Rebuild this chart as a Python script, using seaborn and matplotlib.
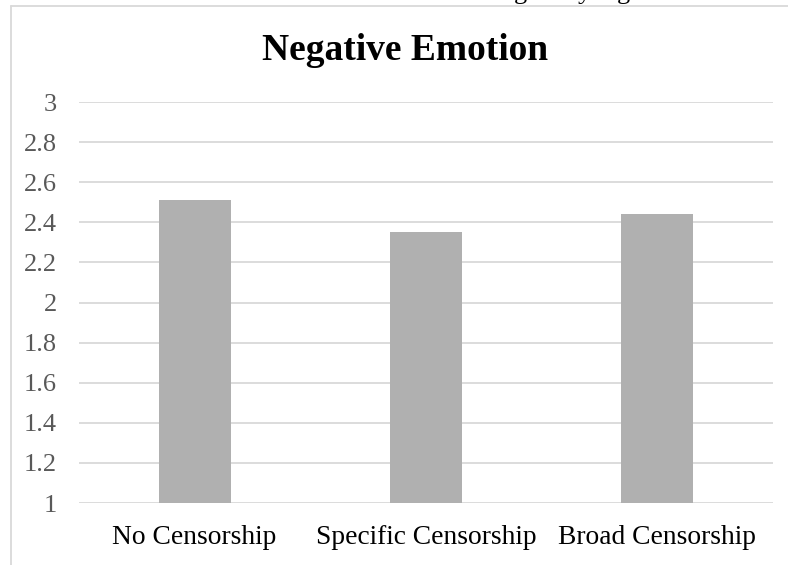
import matplotlib
matplotlib.use("Agg")
import matplotlib.pyplot as plt
from matplotlib.lines import Line2D
import seaborn as sns
import pandas as pd

# Mean negative emotion rating per condition
conditions = ["No Censorship", "Specific Censorship", "Broad Censorship"]
negative_emotion = [2.51, 2.35, 2.44]
y_ticks = [1, 1.2, 1.4, 1.6, 1.8, 2, 2.2, 2.4, 2.6, 2.8, 3]
y_tick_labels = ["1", "1.2", "1.4", "1.6", "1.8", "2", "2.2", "2.4", "2.6", "2.8", "3"]
title = "Negative Emotion"

sns.set_theme(style="white")
plt.rcParams["font.family"] = ["Liberation Serif", "DejaVu Serif"]

W, H, DPI = 788, 565, 100
fig = plt.figure(figsize=(W / DPI, H / DPI), dpi=DPI)
fig.patch.set_facecolor("white")

# plot area in pixel coordinates
left, right, top, bottom = 79, 773, 102, 503
ax = fig.add_axes([left / W, 1 - bottom / H, (right - left) / W, (bottom - top) / H])

df = pd.DataFrame({"condition": conditions, "score": negative_emotion})
sns.barplot(data=df, x="condition", y="score", color="#b0b0b0", saturation=1,
            width=0.31, ax=ax, zorder=3, edgecolor="none")

ax.set_ylim(1, 3)
ax.set_xlim(-0.5, len(conditions) - 0.5)
ax.set_yticks(y_ticks)
ax.set_yticklabels(y_tick_labels)
ax.set_xlabel("")
ax.set_ylabel("")
ax.yaxis.grid(True, color="#d9d9d9", linewidth=1.3, zorder=0)
ax.xaxis.grid(False)
ax.set_axisbelow(True)
for s in ax.spines.values():
    s.set_visible(False)

ax.tick_params(axis="y", length=0, pad=16, labelsize=19, labelcolor="#595959")
ax.tick_params(axis="x", length=0, pad=29.5, labelsize=19.8, labelcolor="#000000")
for lbl in ax.get_xticklabels():
    lbl.set_verticalalignment("baseline")

# chart title, centred over the chart frame
fig.text(405 / W, 1 - 60 / H, title, ha="center", va="baseline",
         fontsize=27, fontweight="bold", color="#000000")

# chart frame edges
frame_color = "#d9d9d9"
fig.add_artist(Line2D([11 / W, 11 / W], [0, 1 - 6 / H], color=frame_color,
                      linewidth=1.3, transform=fig.transFigure))
fig.add_artist(Line2D([11 / W, 1], [1 - 6 / H, 1 - 6 / H], color=frame_color,
                      linewidth=1.3, transform=fig.transFigure))

# tails of the text line running above the chart
for ch, xp in [("g", 520), ("y", 584), ("g", 623)]:
    fig.text(xp / W, 1 + 1.5 / H, ch, ha="center", va="baseline",
             fontsize=19, color="#000000")

fig.savefig("out.png", dpi=DPI, facecolor="white")
